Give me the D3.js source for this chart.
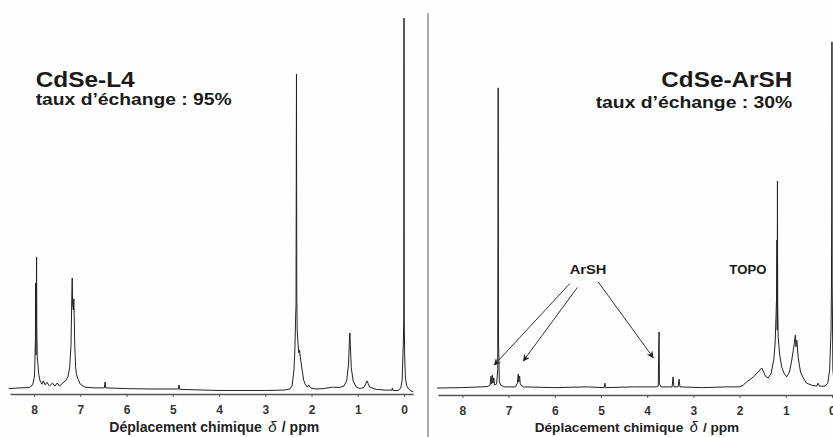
<!DOCTYPE html>
<html><head><meta charset="utf-8">
<script src="https://cdn.jsdelivr.net/npm/d3@7"></script>
<style>
html,body{margin:0;padding:0;background:#fefefe;}
svg{display:block;}
text{font-family:Arial,"Liberation Sans",Helvetica,sans-serif;}
</style></head>
<body>
<svg id="chart" width="833" height="437"></svg>
<script>
// ---- data (ppm, relative intensity) ----
const tickPPM = [8, 7, 6, 5, 4, 3, 2, 1, 0];
const titles = ["CdSe-L4", "CdSe-ArSH"];
const subtitles = ["taux d\u2019\u00e9change : 95%", "taux d\u2019\u00e9change : 30%"];
const axisTitleParts = ["D\u00e9placement chimique", "\u03b4", "/ ppm"];

const specL = [
 [8.55,0.1],[8.3,0.3],[8.1,0.4],[8.03,1.1],[7.99,3.5],[7.97,13.2],[7.965,28.6],[7.96,9.2],[7.95,24.0],[7.945,35.6],
 [7.94,15.9],[7.93,8.4],[7.92,7.3],[7.9,4.0],[7.87,2.2],[7.83,1.3],[7.8,2.2],[7.76,1.1],[7.72,1.8],[7.67,0.8],
 [7.6,1.6],[7.55,0.8],[7.5,1.6],[7.45,0.8],[7.38,1.6],[7.32,2.2],[7.27,3.2],[7.23,5.7],[7.2,11.9],[7.185,24.0],
 [7.175,29.9],[7.165,22.6],[7.15,21.3],[7.14,24.3],[7.13,19.1],[7.12,11.9],[7.1,5.7],[7.08,3.8],[7.05,2.7],[7.0,1.3],
 [6.9,0.5],[6.7,0.3],[6.48,0.3],[6.465,1.9],[6.45,0.3],[6.0,0.1],[5.5,0],[4.88,0],[4.865,1.1],[4.85,-0.1],
 [4.0,-0.4],[3.0,-0.4],[2.6,-0.3],[2.47,0],[2.42,0.8],[2.38,5.1],[2.36,10.5],[2.345,18.6],[2.335,22.6],[2.325,84.9],
 [2.318,24.0],[2.31,15.9],[2.29,11.9],[2.275,9.7],[2.26,10.5],[2.24,8.4],[2.21,5.7],[2.17,2.4],[2.13,1.1],[2.09,0.5],
 [2.06,1.1],[2.02,0.3],[1.9,0],[1.75,0.1],[1.55,0.5],[1.4,0.4],[1.3,0.8],[1.24,2.2],[1.2,6.5],[1.18,13.2],
 [1.17,15.1],[1.16,11.9],[1.14,5.7],[1.1,2.2],[1.03,0.5],[0.95,0.1],[0.86,0.5],[0.82,1.6],[0.8,2.2],[0.78,1.6],
 [0.74,0.5],[0.6,-0.1],[0.4,-0.3],[0.26,-0.3],[0.25,0.3],[0.24,-0.4],[0.12,-0.4],[0.07,0.3],[0.04,2.4],[0.025,8.6],
 [0.015,12.4],[0.005,18.6],[0.0,100],[-0.005,18.6],[-0.015,8.6],[-0.03,3.0],[-0.06,0.8],[-0.1,0],[-0.15,-0.5],[-0.2,-0.8]
];

const specR = [
 [8.55,0],[8.0,0.1],[7.6,0.3],[7.45,0.4],[7.4,0.8],[7.38,3.2],[7.37,1.1],[7.35,3.5],[7.34,1.3],[7.32,2.7],
 [7.3,0.8],[7.26,1.1],[7.235,4.9],[7.225,80.9],[7.218,12.9],[7.2,1.6],[7.17,0.8],[7.1,0.3],[6.85,0.3],[6.81,1.3],
 [6.79,3.8],[6.78,1.6],[6.77,2.7],[6.76,3.2],[6.75,1.3],[6.73,0.8],[6.68,0.3],[6.0,0.1],[5.3,0.3],[4.93,0.1],
 [4.915,1.3],[4.9,0.1],[4.3,0.3],[3.8,0.3],[3.76,0.5],[3.748,11.6],[3.742,15.1],[3.735,1.1],[3.7,0.3],[3.46,0.3],
 [3.44,3.0],[3.42,0.3],[3.33,0.3],[3.31,2.4],[3.29,0.3],[2.8,0.1],[2.3,0.3],[2.0,0.3],[1.92,0.8],[1.82,1.9],
 [1.7,3.0],[1.6,4.3],[1.54,5.1],[1.52,5.4],[1.49,4.6],[1.44,3.2],[1.38,2.7],[1.32,3.8],[1.26,7.5],[1.23,12.1],
 [1.2,23.7],[1.19,39.9],[1.185,15.6],[1.18,55.8],[1.175,23.7],[1.165,13.7],[1.13,8.9],[1.09,5.7],[1.03,3.8],[0.98,3.0],
 [0.92,4.3],[0.87,7.5],[0.82,11.6],[0.8,13.7],[0.79,14.3],[0.78,11.1],[0.76,12.9],[0.73,8.1],[0.68,4.3],[0.62,2.7],
 [0.55,1.3],[0.45,0.8],[0.33,0.5],[0.3,1.3],[0.27,0.5],[0.15,0.5],[0.09,1.3],[0.05,4.9],[0.02,15.6],[0.01,28.3],
 [0.005,50.7],[0.0,93.3],[-0.005,28.3],[-0.02,4.9],[-0.05,1.1],[-0.1,0.3]
];

// annotations on right panel: label position and arrows (from -> to), in data units
const arshLabel = {text: "ArSH", ppm: 5.28, int: 30.7};
const topoLabel = {text: "TOPO", ppm: 1.82, int: 30.6};
const arrowFrom = [[5.67, 28.2], [5.51, 27.1], [5.06, 28.6]];
const arrowTo   = [[7.31, 6.2], [6.68, 7.3], [3.87, 8.2]];

// ---- drawing ----
const svg = d3.select("#chart");

const xL = d3.scaleLinear().domain([8.52, -0.2]).range([10, 413.25]);
const yL = d3.scaleLinear().domain([0, 100]).range([389, 18]);
const xR = d3.scaleLinear().domain([8.53, -0.12]).range([437.9, 837.5]);
const yR = d3.scaleLinear().domain([0, 100]).range([388, 17]);

// divider
svg.append("line").attr("x1", 428).attr("x2", 428).attr("y1", 13).attr("y2", 437)
  .attr("stroke", "#aaa").attr("stroke-width", 2);

function panel(x, y, spec, axisY, titleX, s) {
  const g = svg.append("g");
  const line = d3.line().x(d => x(d[0])).y(d => y(d[1]));
  g.append("path").datum(spec).attr("d", line)
    .attr("fill", "none").attr("stroke", "#222").attr("stroke-width", 1)
    .attr("stroke-linejoin", "round");

  const ax = g.append("g").attr("transform", `translate(0,${axisY})`)
    .call(d3.axisBottom(x).tickValues(tickPPM).tickFormat(d3.format("d"))
      .tickSize(3).tickSizeOuter(0).tickPadding(8));
  ax.select(".domain").attr("stroke", "#555").attr("stroke-width", 1.3);
  ax.selectAll(".tick line").attr("stroke", "#555");
  ax.selectAll(".tick text").attr("font-size", 12).attr("font-weight", "bold")
    .attr("fill", "#333").attr("font-family", "Arial, 'Liberation Sans', sans-serif");

  // axis title in three pieces: text, italic delta, unit
  const fs = 14 * s;
  g.append("text").attr("x", titleX).attr("y", 432).attr("font-size", fs).attr("font-weight", "bold")
    .attr("fill", "#222").text(axisTitleParts[0]);
  g.append("text").attr("x", titleX + 159 * s).attr("y", 432).attr("font-size", 15 * s)
    .attr("font-style", "italic").attr("fill", "#222").text(axisTitleParts[1]);
  g.append("text").attr("x", titleX + 172.5 * s).attr("y", 432).attr("font-size", fs).attr("font-weight", "bold")
    .attr("fill", "#222").text(axisTitleParts[2]);
  return g;
}

panel(xL, yL, specL, 394, 109.3, 1);
panel(xR, yR, specR, 395, 534.7, 0.975);

// titles
svg.append("text").attr("x", 35.7).attr("y", 86.5).attr("font-size", 22).attr("font-weight", "bold")
  .attr("fill", "#1a1a1a").attr("textLength", 99).attr("lengthAdjust", "spacingAndGlyphs").text(titles[0]);
svg.append("text").attr("x", 35.7).attr("y", 105).attr("font-size", 16).attr("font-weight", "bold")
  .attr("fill", "#1a1a1a").attr("textLength", 196).attr("lengthAdjust", "spacingAndGlyphs").text(subtitles[0]);
svg.append("text").attr("x", 792.3).attr("y", 86.5).attr("text-anchor", "end").attr("font-size", 22).attr("font-weight", "bold")
  .attr("fill", "#1a1a1a").attr("textLength", 131).attr("lengthAdjust", "spacingAndGlyphs").text(titles[1]);
svg.append("text").attr("x", 792.3).attr("y", 108).attr("text-anchor", "end").attr("font-size", 16).attr("font-weight", "bold")
  .attr("fill", "#1a1a1a").attr("textLength", 196.6).attr("lengthAdjust", "spacingAndGlyphs").text(subtitles[1]);

// annotations
svg.append("defs").append("marker").attr("id", "ah").attr("viewBox", "0 0 10 10")
  .attr("refX", 9).attr("refY", 5).attr("markerWidth", 8).attr("markerHeight", 7)
  .attr("markerUnits", "userSpaceOnUse").attr("orient", "auto")
  .append("path").attr("d", "M0,0 L10,5 L0,10 L3,5 Z").attr("fill", "#222");

arrowFrom.forEach((f, i) => {
  const t = arrowTo[i];
  svg.append("line").attr("x1", xR(f[0])).attr("y1", yR(f[1]))
    .attr("x2", xR(t[0])).attr("y2", yR(t[1]))
    .attr("stroke", "#333").attr("stroke-width", 1).attr("marker-end", "url(#ah)");
});

svg.append("text").attr("x", xR(arshLabel.ppm)).attr("y", yR(arshLabel.int)).attr("text-anchor", "middle")
  .attr("font-size", 13).attr("font-weight", "bold").attr("fill", "#1a1a1a")
  .attr("textLength", 36.7).attr("lengthAdjust", "spacingAndGlyphs").text(arshLabel.text);
svg.append("text").attr("x", xR(topoLabel.ppm)).attr("y", yR(topoLabel.int)).attr("text-anchor", "middle")
  .attr("font-size", 12).attr("font-weight", "bold").attr("fill", "#1a1a1a")
  .attr("textLength", 37).attr("lengthAdjust", "spacingAndGlyphs").text(topoLabel.text);
</script>
</body></html>
